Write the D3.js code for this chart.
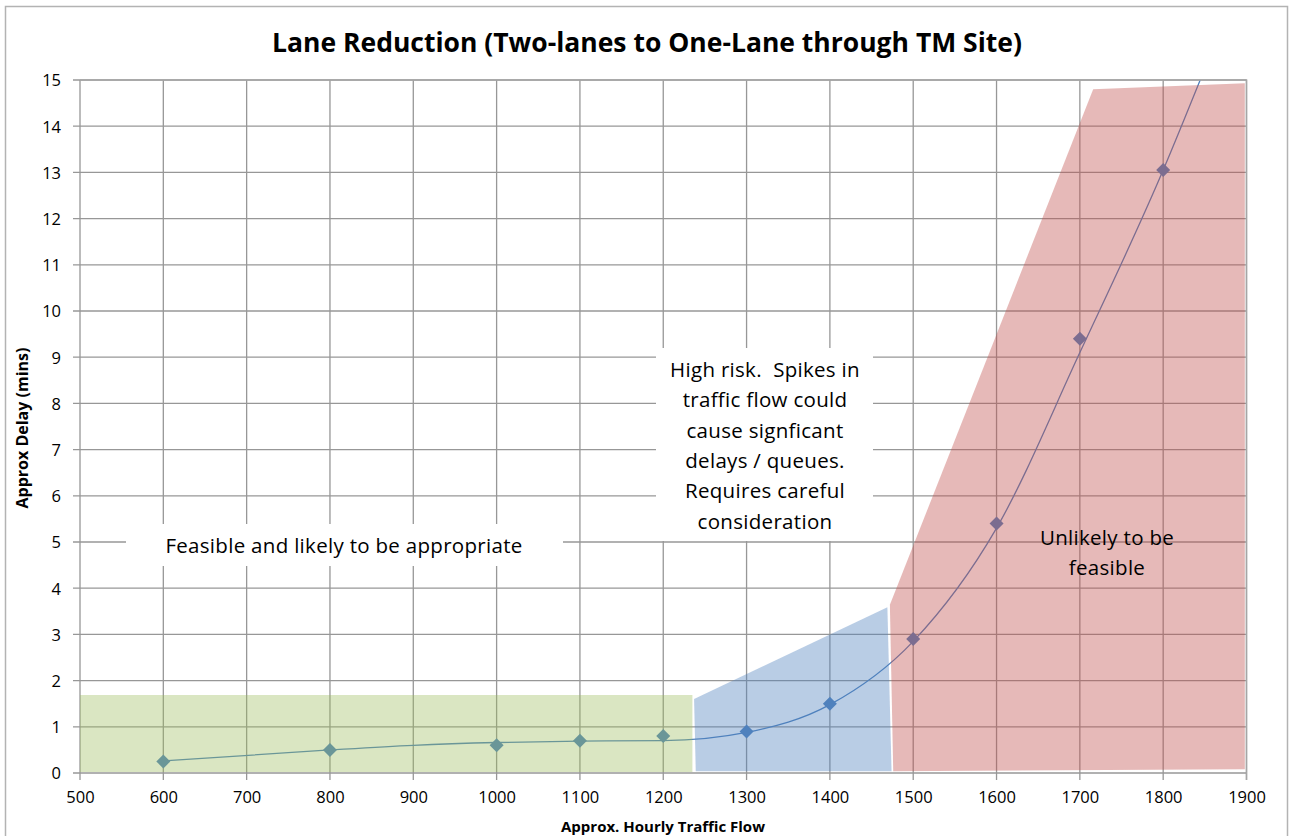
<!DOCTYPE html>
<html>
<head>
<meta charset="utf-8">
<script src="https://cdn.jsdelivr.net/npm/d3@7"></script>
<style>
body { margin: 0; background: #fff; }
text { font-family: "Open Sans", Lato, sans-serif; fill: #000; }
</style>
</head>
<body>
<script>
"use strict";
// ---data
var flow = [600, 800, 1000, 1100, 1200, 1300, 1400, 1500, 1600, 1700, 1800];
var delay = [0.25, 0.5, 0.6, 0.7, 0.8, 0.9, 1.5, 2.9, 5.4, 9.4, 13.05];
var curveFlow = [600, 800, 900, 1000, 1100, 1200, 1300, 1400, 1500, 1600, 1700, 1800, 1850];
var curveDelay = [0.26, 0.5, 0.6, 0.66, 0.69, 0.7, 0.88, 1.48, 2.85, 5.3, 9.1, 13.05, 15.25];
var xTicks = [500, 600, 700, 800, 900, 1000, 1100, 1200, 1300, 1400, 1500, 1600, 1700, 1800, 1900];
var yTicks = [0, 1, 2, 3, 4, 5, 6, 7, 8, 9, 10, 11, 12, 13, 14, 15];
// ---shaded zones (flow, delay)
var greenZone = [[500, 0.02], [1235, 0.02], [1235, 1.69], [500, 1.69]];
var blueZone = [[1237, 1.6], [1469, 3.59], [1474, 0.04], [1239, 0.04]];
var redZone = [[1472, 3.64], [1716, 14.8], [1898, 14.93], [1898, 0.08], [1476, 0.04]];

var svg_width = 1290;
var svg_height = 836;
var plot_left = 80, plot_right = 1246.5, plot_top = 80, plot_bottom = 773;

var svg = d3.select("body").append("svg")
    .attr("width", svg_width)
    .attr("height", svg_height);

// ---outer chart border
svg.append("rect")
    .attr("x", 5.5).attr("y", 6.5)
    .attr("width", 1282).attr("height", 900)
    .attr("fill", "none")
    .attr("stroke", "#b3b3b3")
    .attr("stroke-width", 1.5);

var x = d3.scaleLinear().domain([500, 1900]).range([plot_left, plot_right]);
var y = d3.scaleLinear().domain([0, 15]).range([plot_bottom, plot_top]);

// ---grid
var grid = svg.append("g").attr("stroke", "#979797").attr("stroke-width", 1.3);
grid.selectAll(".vg").data(xTicks).enter().append("line")
    .attr("x1", function(d) { return x(d); }).attr("x2", function(d) { return x(d); })
    .attr("y1", plot_top).attr("y2", plot_bottom + 7);
grid.selectAll(".hg").data(yTicks).enter().append("line")
    .attr("x1", plot_left - 7).attr("x2", plot_right)
    .attr("y1", function(d) { return y(d); }).attr("y2", function(d) { return y(d); });

// ---axes labels via d3 axes (lines hidden, grid draws them)
var xaxis = d3.axisBottom(x).tickValues(xTicks).tickSize(0).tickPadding(18).tickFormat(d3.format("d"));
var gx = svg.append("g").attr("transform", "translate(0," + plot_bottom + ")").call(xaxis);
var yaxis = d3.axisLeft(y).tickValues(yTicks).tickSize(0).tickPadding(19).tickFormat(d3.format("d"));
var gy = svg.append("g").attr("transform", "translate(" + plot_left + ",0)").call(yaxis);
[gx, gy].forEach(function(g) {
    g.select(".domain").remove();
    g.selectAll("text").style("font-size", "16.5px").style("font-family", "'Open Sans', sans-serif").attr("fill", "#000");
});
gy.selectAll("text").attr("dy", "0.36em");

svg.append("clipPath").attr("id", "plotclip").append("rect")
    .attr("x", plot_left).attr("y", plot_top).attr("width", plot_right - plot_left).attr("height", plot_bottom - plot_top);

var line = d3.line()
    .x(function(d, i) { return x(curveFlow[i]); })
    .y(function(d) { return y(d); })
    .curve(d3.curveMonotoneX);
svg.append("path")
    .datum(curveDelay)
    .attr("clip-path", "url(#plotclip)")
    .attr("fill", "none")
    .attr("stroke", "#4f81bd")
    .attr("stroke-width", 1.3)
    .attr("d", line);

// ---diamond markers
svg.selectAll(".pt").data(flow).enter().append("path")
    .attr("class", "pt")
    .attr("d", d3.symbol().type(d3.symbolSquare).size(98))
    .attr("transform", function(d, i) { return "translate(" + x(d) + "," + y(delay[i]) + ") rotate(45)"; })
    .attr("fill", "#4f81bd");

// ---shaded zones on top
var poly = d3.line().x(function(d) { return x(d[0]); }).y(function(d) { return y(d[1]); });
[[greenZone, "#9bbb59", 0.37], [blueZone, "#4f81bd", 0.4], [redZone, "#c0504d", 0.4]].forEach(function(z)
{
    svg.append("path")
        .attr("d", poly(z[0]) + "Z")
        .attr("fill", z[1])
        .attr("fill-opacity", z[2]);
});

// ---plot top/right border
svg.append("path")
    .attr("d", "M" + plot_left + "," + plot_top + "H" + plot_right + "V" + (plot_bottom + 7))
    .attr("fill", "none").attr("stroke", "#a6a6a6").attr("stroke-width", 1.5);

// ---annotations
var noteSize = "20.5px";
var noteSpacing = "0.3px";
svg.append("rect").attr("x", 126).attr("y", 524).attr("width", 437).attr("height", 42).attr("fill", "#fff");
svg.append("text").attr("x", 344).attr("y", 553).attr("text-anchor", "middle")
    .style("font-size", noteSize).style("letter-spacing", noteSpacing)
    .text("Feasible and likely to be appropriate");

svg.append("rect").attr("x", 656).attr("y", 348).attr("width", 217).attr("height", 193).attr("fill", "#fff");
var riskLines = ["High risk.  Spikes in", "traffic flow could", "cause signficant", "delays / queues.", "Requires careful", "consideration"];
svg.append("text").attr("text-anchor", "middle")
    .style("font-size", noteSize).style("letter-spacing", noteSpacing).style("white-space", "pre")
    .selectAll("tspan").data(riskLines).enter().append("tspan")
    .attr("x", 765)
    .attr("y", function(d, i) { return 377 + i * 30.3; })
    .text(function(d) { return d; });

var redLines = ["Unlikely to be", "feasible"];
svg.append("text").attr("text-anchor", "middle")
    .style("font-size", noteSize).style("letter-spacing", noteSpacing)
    .selectAll("tspan").data(redLines).enter().append("tspan")
    .attr("x", 1107)
    .attr("y", function(d, i) { return 545 + i * 29.5; })
    .text(function(d) { return d; });

// ---titles
svg.append("text").attr("x", 647).attr("y", 52).attr("text-anchor", "middle")
    .style("font-size", "26.5px").style("font-weight", "bold")
    .text("Lane Reduction (Two-lanes to One-Lane through TM Site)");
svg.append("text").attr("x", 663).attr("y", 832).attr("text-anchor", "middle")
    .style("font-size", "15px").style("font-weight", "bold")
    .text("Approx. Hourly Traffic Flow");
svg.append("text").attr("transform", "translate(28,428) rotate(-90)").attr("text-anchor", "middle")
    .style("font-size", "16px").style("font-weight", "bold")
    .text("Approx Delay (mins)");
</script>
</body>
</html>
